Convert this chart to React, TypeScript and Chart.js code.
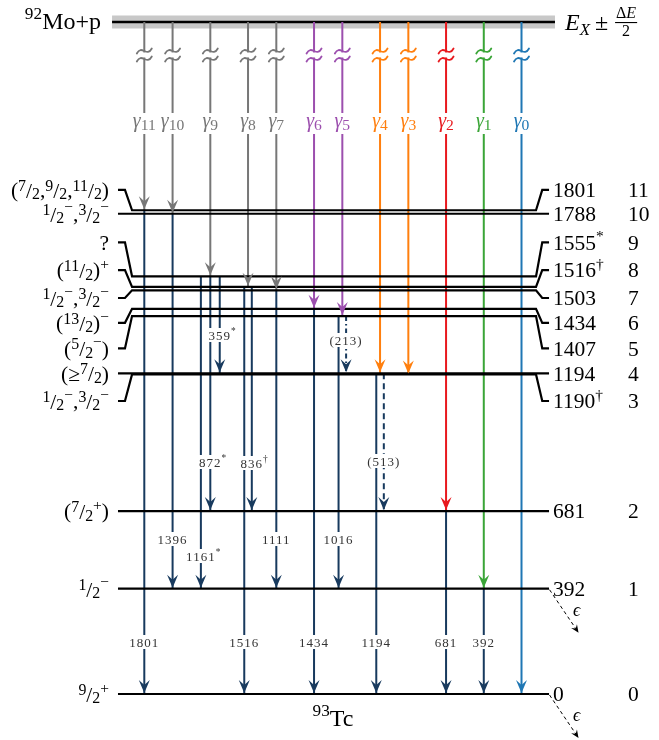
import React, { useEffect, useRef } from "react";
import { Chart, registerables } from "chart.js";
Chart.register(...registerables);

// ---------------- data ----------------
const levelIndex = [0, 1, 2, 3, 4, 5, 6, 7, 8, 9, 10, 11];
const levelEnergy = [0, 392, 681, 1190, 1194, 1407, 1434, 1503, 1516, 1555, 1788, 1801];
const levelEnergyText = ["0", "392", "681", "1190^†", "1194", "1407", "1434", "1503", "1516^†", "1555^*", "1788", "1801"];
const levelSpin = [
  "{9/2}^+", "{1/2}^-", "({7/2}^+)", "{1/2}^-,{3/2}^-", "(≥{7/2})", "({5/2}^-)",
  "({13/2})^-", "{1/2}^-,{3/2}^-", "({11/2})^+", "?", "{1/2}^-,{3/2}^-", "({7/2},{9/2},{11/2})",
];
const levelEpsilon = [true, true, false, false, false, false, false, false, false, false, false, false];

const compoundText = "^[92]Mo+p";
const nucleusText = "^[93]Tc";
const compoundEnergy = 2502; // schematic entry energy E_X
const compoundHalfWidth = 24; // ΔE/2 (schematic)

const gammaIndex = [0, 1, 2, 3, 4, 5, 6, 7, 8, 9, 10, 11];
const gammaColumn = [40, 36, 32, 28, 25, 21, 18, 14, 11, 7, 3, 0];
const gammaColor = [
  "#1f77b4", "#3aa537", "#e8191e", "#ff7f0e", "#ff7f0e", "#9c4fae",
  "#9c4fae", "#777777", "#777777", "#777777", "#777777", "#777777",
];

const secondaryFrom = [1801, 1788, 1555, 1555, 1555, 1516, 1516, 1503, 1434, 1407, 1407, 1194, 1194, 681, 392];
const secondaryTo = [0, 392, 392, 681, 1194, 0, 681, 392, 0, 392, 1194, 0, 681, 0, 0];
const secondaryText = ["1801", "1396", "1161^*", "872^*", "359^*", "1516", "836^†", "1111", "1434", "1016", "(213)", "1194", "(513)", "681", "392"];
const secondaryColumn = [0, 3, 6, 7, 8, 10.6, 11.4, 14, 18, 20.6, 21.4, 24.6, 25.4, 32, 36];
const secondaryStyle = ["s", "s", "s", "s", "s", "s", "s", "s", "s", "s", "dd", "s", "d", "s", "s"];

// ---------------- layout ----------------
const W = 659;
const H = 740;
const X_MIN = -15.302;
const X_MAX = 54.581;
const Y_MIN = -171.2;
const Y_MAX = 2583.8;
const KEV_PER_PX = (Y_MAX - Y_MIN) / H;
const LEVEL_L = -2.79;
const LEVEL_L_STUB = -2.05;
const LEVEL_L_KINK = -1.3;
const LEVEL_R_KINK = 41.54;
const LEVEL_R_STUB = 42.2;
const LEVEL_R = 42.92;
const BAND_L = -3.42;
const BAND_R = 43.55;
const levelLabelShiftPx = [0, 0, 0, 26.6, 0, 32.3, 14, 7.7, -16.7, -34, 0, -20.3];
const secondaryLabelY = [642, 539, 556, 462, 335, 642, 463, 539, 642, 539, 340, 642, 461, 642, 642];

const NAVY = "#183a5e";
const FONT = '"Liberation Serif","DejaVu Serif",serif';

type Seg = { t: string; s: number; dy: number; it?: boolean };

function parseRich(str: string): Seg[] {
  const out: Seg[] = [];
  let i = 0;
  while (i < str.length) {
    const ch = str[i];
    if (ch === "{") {
      const j = str.indexOf("}", i);
      const [a, b] = str.slice(i + 1, j).split("/");
      out.push({ t: a, s: 0.74, dy: -0.3 });
      out.push({ t: "/", s: 1.0, dy: 0.03 });
      out.push({ t: b, s: 0.74, dy: 0.1 });
      i = j + 1;
    } else if (ch === "^" || ch === "_") {
      let t: string;
      if (str[i + 1] === "[") {
        const j = str.indexOf("]", i);
        t = str.slice(i + 2, j);
        i = j + 1;
      } else {
        t = str[i + 1];
        i += 2;
      }
      if (t === "-") t = "\u2212";
      out.push({ t, s: 0.72, dy: ch === "^" ? -0.4 : 0.22 });
    } else {
      let j = i;
      while (j < str.length && "{^_".indexOf(str[j]) < 0) j++;
      out.push({ t: str.slice(i, j), s: 1, dy: 0 });
      i = j;
    }
  }
  return out;
}

function fontOf(seg: Seg, size: number) {
  return `${seg.it ? "italic " : ""}${(size * seg.s).toFixed(2)}px ${FONT}`;
}

function richWidth(ctx: CanvasRenderingContext2D, segs: Seg[], size: number) {
  let w = 0;
  for (const s of segs) {
    ctx.font = fontOf(s, size);
    w += ctx.measureText(s.t).width;
  }
  return w;
}

function drawRich(
  ctx: CanvasRenderingContext2D,
  segs: Seg[],
  x: number,
  baseline: number,
  size: number,
  align: "left" | "right" | "center",
  color: string
) {
  const w = richWidth(ctx, segs, size);
  let cx = align === "left" ? x : align === "right" ? x - w : x - w / 2;
  ctx.fillStyle = color;
  ctx.textAlign = "left";
  ctx.textBaseline = "alphabetic";
  for (const s of segs) {
    ctx.font = fontOf(s, size);
    ctx.fillText(s.t, cx, baseline + s.dy * size);
    cx += ctx.measureText(s.t).width;
  }
  return w;
}

function arrowHead(ctx: CanvasRenderingContext2D, x: number, yTip: number, color: string, len = 13, half = 5.5) {
  ctx.beginPath();
  ctx.moveTo(x, yTip);
  ctx.lineTo(x - half, yTip - len);
  ctx.lineTo(x, yTip - len * 0.62);
  ctx.lineTo(x + half, yTip - len);
  ctx.closePath();
  ctx.fillStyle = color;
  ctx.fill();
}

function levelPoints(i: number) {
  const E = levelEnergy[i];
  const shift = levelLabelShiftPx[i];
  if (shift === 0) {
    return [
      { x: LEVEL_L, y: E },
      { x: LEVEL_R, y: E },
    ];
  }
  const Ek = E - shift * KEV_PER_PX;
  return [
    { x: LEVEL_L, y: Ek },
    { x: LEVEL_L_STUB, y: Ek },
    { x: LEVEL_L_KINK, y: E },
    { x: LEVEL_R_KINK, y: E },
    { x: LEVEL_R_STUB, y: Ek },
    { x: LEVEL_R, y: Ek },
  ];
}

const schemePlugin = {
  id: "scheme",
  afterDatasetsDraw(chart: any) {
    const ctx = chart.ctx as CanvasRenderingContext2D;
    const X = (v: number) => chart.scales.x.getPixelForValue(v);
    const Y = (v: number) => chart.scales.y.getPixelForValue(v);
    ctx.save();

    // primary gammas: arrowheads, breaks, labels
    gammaIndex.forEach((g, k) => {
      const x = X(gammaColumn[k]);
      const col = gammaColor[k];
      arrowHead(ctx, x, Y(levelEnergy[g]) - 1, col);
      const yb = Y(compoundEnergy) + 33;
      ctx.fillStyle = "#fff";
      ctx.fillRect(x - 3, yb - 2.5, 6, 5);
      ctx.strokeStyle = col;
      ctx.lineWidth = 1.8;
      ctx.lineCap = "round";
      for (const dy of [-4, 4]) {
        ctx.beginPath();
        ctx.moveTo(x - 7.5, yb + dy + 2.5);
        ctx.bezierCurveTo(x - 2.5, yb + dy - 7, x + 2.5, yb + dy + 7, x + 7.5, yb + dy - 2.5);
        ctx.stroke();
      }
      ctx.lineCap = "butt";
      const segs: Seg[] = [
        { t: "γ", s: 1, dy: 0, it: true },
        { t: String(g), s: 0.78, dy: 0.14 },
      ];
      const size = 20;
      const w = richWidth(ctx, segs, size);
      ctx.fillStyle = "#fff";
      ctx.fillRect(x - w / 2 - 1.5, 113, w + 3, 21);
      drawRich(ctx, segs, x, 127, size, "center", col);
    });

    // secondary transitions: arrowheads + labels
    secondaryFrom.forEach((_, k) => {
      const x = X(secondaryColumn[k]);
      arrowHead(ctx, x, Y(secondaryTo[k]) - 1, NAVY);
      const segs = parseRich(secondaryText[k]);
      const size = 13;
      (ctx as any).letterSpacing = "1px";
      const base = segs.filter((s) => s.s === 1);
      const wb = richWidth(ctx, base, size);
      const w = richWidth(ctx, segs, size);
      const yc = secondaryLabelY[k];
      const left = x - wb / 2;
      ctx.fillStyle = "#fff";
      ctx.fillRect(left - 2, yc - 7, w + 4, 14);
      drawRich(ctx, segs, left, yc + 4.5, size, "left", "#333");
      (ctx as any).letterSpacing = "0px";
    });

    // level labels
    levelIndex.forEach((i) => {
      const yc = Y(levelEnergy[i]) + levelLabelShiftPx[i];
      const size = 21.5;
      const bl = yc + 0.34 * size;
      drawRich(ctx, parseRich(levelSpin[i]), 109, bl, size, "right", "#000");
      drawRich(ctx, parseRich(levelEnergyText[i]), 553, bl, size, "left", "#000");
      drawRich(ctx, parseRich(String(i)), 628, bl, size, "left", "#000");
      if (levelEpsilon[i]) {
        const x0 = X(LEVEL_R) + 0.5;
        const y0 = Y(levelEnergy[i]) + 1;
        const x1 = x0 + 29;
        const y1 = y0 + 43;
        ctx.strokeStyle = "#000";
        ctx.lineWidth = 1;
        ctx.setLineDash([3.5, 3]);
        ctx.beginPath();
        ctx.moveTo(x0, y0);
        ctx.lineTo(x1 - 2, y1 - 3);
        ctx.stroke();
        ctx.setLineDash([]);
        const ang = Math.atan2(y1 - y0, x1 - x0);
        ctx.save();
        ctx.translate(x1, y1);
        ctx.rotate(ang - Math.PI / 2);
        ctx.beginPath();
        ctx.moveTo(0, 0);
        ctx.lineTo(-3.5, -8);
        ctx.lineTo(0, -5);
        ctx.lineTo(3.5, -8);
        ctx.closePath();
        ctx.fillStyle = "#000";
        ctx.fill();
        ctx.restore();
        ctx.font = `italic 18px ${FONT}`;
        ctx.textAlign = "center";
        ctx.fillText("ϵ", x0 + 27, y0 + 26);
      }
    });

    // compound nucleus labels
    drawRich(ctx, parseRich(compoundText), 101, 28.5, 24, "right", "#000");
    let ex = 565;
    ex += drawRich(ctx, [{ t: "E", s: 1, dy: 0, it: true }, { t: "X", s: 0.7, dy: 0.22, it: true }], ex, 30, 24, "left", "#000");
    ex += 5;
    ex += drawRich(ctx, [{ t: "±", s: 1, dy: 0 }], ex, 30, 24, "left", "#000");
    ex += 6;
    const fs = 16;
    const fseg: Seg[] = [{ t: "Δ", s: 1, dy: 0 }, { t: "E", s: 1, dy: 0, it: true }];
    const fw = richWidth(ctx, fseg, fs);
    const fc = ex + fw / 2 + 2;
    drawRich(ctx, fseg, fc, 18, fs, "center", "#000");
    ctx.fillStyle = "#000";
    ctx.fillRect(fc - fw / 2 - 1, 22, fw + 2, 1.1);
    drawRich(ctx, [{ t: "2", s: 1, dy: 0 }], fc, 36, fs, "center", "#000");

    drawRich(ctx, parseRich(nucleusText), 333, 726, 24, "center", "#000");
    ctx.restore();
  },
};

export default function App() {
  const ref = useRef<HTMLCanvasElement | null>(null);
  useEffect(() => {
    document.body.style.margin = "0";
    const canvas = ref.current;
    if (!canvas) return;
    const datasets: any[] = [];
    const hi = compoundEnergy + compoundHalfWidth;
    const lo = compoundEnergy - compoundHalfWidth;
    datasets.push({
      data: [{ x: BAND_L, y: hi }, { x: BAND_R, y: hi }],
      borderWidth: 0,
      borderColor: "rgba(0,0,0,0)",
      backgroundColor: "#c8c8c8",
      fill: "+1",
      order: 40,
    });
    datasets.push({
      data: [{ x: BAND_L, y: lo }, { x: BAND_R, y: lo }],
      borderWidth: 0,
      borderColor: "rgba(0,0,0,0)",
      fill: false,
      order: 39,
    });
    datasets.push({
      data: [{ x: BAND_L, y: compoundEnergy }, { x: BAND_R, y: compoundEnergy }],
      borderColor: "#000",
      borderWidth: 2.4,
      order: 38,
    });
    gammaIndex.forEach((g, k) => {
      datasets.push({
        data: [{ x: gammaColumn[k], y: compoundEnergy }, { x: gammaColumn[k], y: levelEnergy[g] }],
        borderColor: gammaColor[k],
        borderWidth: 2,
        order: 10,
      });
    });
    secondaryFrom.forEach((from, k) => {
      const st = secondaryStyle[k];
      datasets.push({
        data: [{ x: secondaryColumn[k], y: from }, { x: secondaryColumn[k], y: secondaryTo[k] }],
        borderColor: NAVY,
        borderWidth: 2,
        borderDash: st === "d" ? [6, 4] : st === "dd" ? [5, 3, 1.5, 3] : [],
        order: 10,
      });
    });
    levelIndex.forEach((i) => {
      datasets.push({
        data: levelPoints(i),
        borderColor: "#000",
        borderWidth: 2.2,
        order: 1,
      });
    });
    datasets.forEach((d) => {
      d.showLine = true;
      d.pointRadius = 0;
      d.tension = 0;
      if (d.fill === undefined) d.fill = false;
    });

    const chart = new Chart(canvas, {
      type: "scatter",
      data: { datasets },
      options: {
        responsive: false,
        animation: false,
        events: [],
        layout: { padding: 0 },
        plugins: {
          legend: { display: false },
          tooltip: { enabled: false },
          title: { display: false },
        },
        elements: {
          point: { radius: 0 },
          line: { borderCapStyle: "butt", borderJoinStyle: "miter" },
        },
        scales: {
          x: { type: "linear", min: X_MIN, max: X_MAX, display: false },
          y: { type: "linear", min: Y_MIN, max: Y_MAX, display: false },
        },
      } as any,
      plugins: [schemePlugin],
    });
    return () => chart.destroy();
  }, []);
  return <canvas ref={ref} width={W} height={H} style={{ display: "block" }} />;
}
